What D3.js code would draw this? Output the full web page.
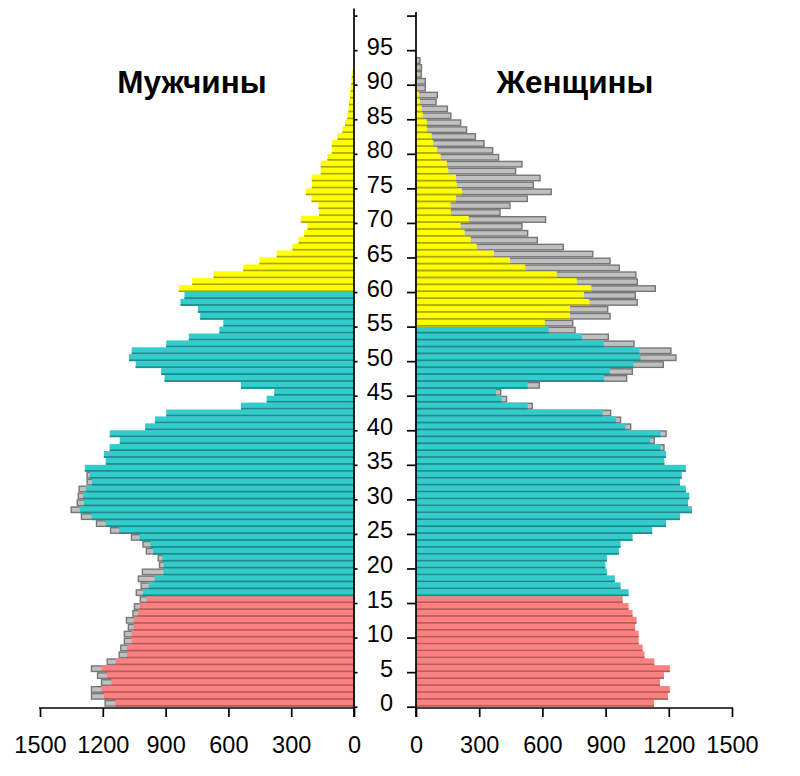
<!DOCTYPE html>
<html>
<head>
<meta charset="utf-8">
<script src="https://cdn.jsdelivr.net/npm/d3@7/dist/d3.min.js"></script>
<style>
  html, body { margin: 0; padding: 0; background: #fff; }
  svg { display: block; }
  text { font-family: "Liberation Sans", Arial, sans-serif; fill: #000; }
</style>
</head>
<body>
<svg id="chart" width="800" height="776"></svg>
<script>
// ---------- DATA ----------
const sexLabels = ["Мужчины", "Женщины"];
const ageTicks = [0, 5, 10, 15, 20, 25, 30, 35, 40, 45, 50, 55, 60, 65, 70, 75, 80, 85, 90, 95];
const valueTicks = [0, 300, 600, 900, 1200, 1500];

// men, coloured bars, index = age 0..91
const men = [1140, 1195, 1206, 1159, 1179, 1206, 1140, 1084, 1084, 1063,
  1063, 1052, 1052, 1032, 1024, 992, 1008, 981, 952, 910,
  910, 916, 960, 973, 1024, 1122, 1186, 1254, 1310, 1290,
  1294, 1281, 1252, 1262, 1286, 1186, 1195, 1167, 1119, 1167,
  998, 951, 897, 540, 417, 381, 540, 905, 921, 1043,
  1075, 1062, 897, 789, 643, 624, 735, 746, 829, 810,
  837, 773, 671, 529, 452, 370, 294, 265, 238, 222,
  254, 167, 170, 203, 230, 202, 202, 159, 159, 127,
  106, 106, 79, 56, 43, 32, 27, 24, 19, 16,
  13, 11];

// men, grey bars (other series), index = age
const menGrey = [1189, 1254, 1254, 1206, 1225, 1254, 1179, 1122, 1114, 1097,
  1097, 1078, 1087, 1056, 1049, 1021, 1040, 1017, 1030, 1011,
  929, 935, 992, 1008, 1063, 1163, 1230, 1302, 1351, 1322,
  1317, 1313, 1275, 1275];

// women, coloured bars, index = age 0..93
const women = [1130, 1196, 1205, 1158, 1177, 1205, 1131, 1085, 1076, 1057,
  1057, 1040, 1047, 1028, 1009, 981, 1009, 971, 944, 906,
  899, 906, 963, 971, 1028, 1121, 1187, 1253, 1310, 1291,
  1297, 1281, 1253, 1262, 1281, 1179, 1187, 1161, 1113, 1161,
  994, 950, 886, 530, 407, 380, 530, 894, 921, 1032,
  1066, 1060, 892, 788, 630, 611, 731, 731, 823, 797,
  832, 763, 668, 519, 446, 370, 288, 260, 231, 212,
  250, 165, 165, 190, 218, 193, 190, 153, 146, 117,
  101, 82, 74, 51, 51, 32, 27, 19, 14, 4,
  3, 2, 2, 1];

// women, grey bars, index = age; null = hidden
const womenGrey = [null, null, null, null, null, null, null, null, null, null,
  null, null, null, null, null, null, null, null, null, null,
  null, null, null, null, null, null, null, null, null, null,
  null, null, null, null, null, null, null, 1177, 1131, 1187,
  1019, 971, 924, 552, 430, 402, 585, 1000, 1027, 1174,
  1234, 1210, 1035, 913, 755, 744, 921, 910, 1050, 1041,
  1136, 1050, 1044, 965, 921, 839, 699, 576, 530, 503,
  615, 399, 446, 528, 642, 557, 589, 473, 503, 392,
  364, 323, 282, 240, 212, 165, 149, 95, 101, 44,
  44, 25, 26, 19];

// ---------- LAYOUT ----------
const svg = d3.select("#chart");
const axisY0 = 708;
const leftZero = 354, rightZero = 416;

const yAge = d3.scaleLinear().domain([0, 100]).range([706.7, 15.6]);
const xL = d3.scaleLinear().domain([0, 1500]).range([leftZero, 40]);
const xR = d3.scaleLinear().domain([0, 1500]).range([rightZero, 732]);

const palette = {
  child:   { fill: "#ff8080", dark: "#b85c5c" },
  work:    { fill: "#33cccc", dark: "#1e8a8a" },
  retired: { fill: "#ffff00", dark: "#a8a800" }
};
function group(age, retireAge) {
  if (age < 16) return palette.child;
  if (age < retireAge) return palette.work;
  return palette.retired;
}

const barH = yAge(0) - yAge(1);

function drawSide(vals, greyVals, side, retireAge) {
  const x = side === "L" ? xL : xR;
  const g = svg.append("g");
  const greyData = greyVals.map((v, a) => ({ a, v })).filter(d => d.v != null);
  g.selectAll("rect.grey").data(greyData).join("rect")
    .attr("class", "grey")
    .attr("x", d => side === "L" ? x(d.v) : rightZero)
    .attr("y", d => yAge(d.a + 1) + 0.7)
    .attr("width", d => Math.abs(x(d.v) - x(0)))
    .attr("height", barH - 1.4)
    .attr("fill", "#c0c0c0")
    .attr("stroke", "#767676")
    .attr("stroke-width", 1.4);

  const data = vals.map((v, a) => ({ a, v, c: group(a, retireAge) }));
  g.selectAll("rect.bar").data(data).join("rect")
    .attr("class", "bar")
    .attr("x", d => side === "L" ? x(d.v) : rightZero)
    .attr("y", d => yAge(d.a + 1))
    .attr("width", d => Math.abs(x(d.v) - x(0)))
    .attr("height", barH)
    .attr("fill", d => d.c.fill);
  g.selectAll("rect.shade").data(data).join("rect")
    .attr("class", "shade")
    .attr("x", d => side === "L" ? x(d.v) : rightZero)
    .attr("y", d => yAge(d.a) - 1.7)
    .attr("width", d => Math.abs(x(d.v) - x(0)))
    .attr("height", 1.7)
    .attr("fill", d => d.c.dark);
}

drawSide(men, menGrey, "L", 60);
drawSide(women, womenGrey, "R", 55);

// ---------- AXES ----------
const fontSize = 23.5;
const fmt = d => String(d);
const axL = svg.append("g").attr("transform", `translate(0,${axisY0})`)
  .call(d3.axisBottom(xL).tickValues(valueTicks).tickFormat(fmt).tickSize(9).tickSizeOuter(0).tickPadding(19.5));
const axR = svg.append("g").attr("transform", `translate(0,${axisY0})`)
  .call(d3.axisBottom(xR).tickValues(valueTicks).tickFormat(fmt).tickSize(9).tickSizeOuter(0).tickPadding(19.5));
[axL, axR].forEach(ax => {
  ax.select(".domain").remove();
  ax.selectAll(".tick line").attr("stroke", "#000").attr("stroke-width", 1.7);
  ax.selectAll(".tick text").style("font-size", fontSize + "px").attr("fill", "#000");
});
svg.append("line").attr("x1", 39).attr("x2", leftZero + 0.8).attr("y1", axisY0).attr("y2", axisY0)
  .attr("stroke", "#000").attr("stroke-width", 1.7);
svg.append("line").attr("x1", rightZero - 0.8).attr("x2", 733).attr("y1", axisY0).attr("y2", axisY0)
  .attr("stroke", "#000").attr("stroke-width", 1.7);

// central age axes
const ageAxisR = svg.append("g").attr("transform", `translate(${rightZero},0)`)
  .call(d3.axisLeft(yAge).tickValues(d3.range(0, 101, 5)).tickSize(9).tickSizeOuter(0).tickPadding(14)
    .tickFormat(d => ageTicks.includes(d) ? String(d) : ""));
ageAxisR.select(".domain").remove();
ageAxisR.selectAll(".tick line").attr("stroke", "#000").attr("stroke-width", 1.7);
ageAxisR.selectAll(".tick text").style("font-size", fontSize + "px").attr("y", -3.5).attr("fill", "#000");

const ageAxisL = svg.append("g").attr("transform", `translate(${leftZero},0)`)
  .call(d3.axisRight(yAge).tickValues(d3.range(0, 101, 5)).tickSize(3.5).tickSizeOuter(0).tickFormat(""));
ageAxisL.select(".domain").remove();
ageAxisL.selectAll(".tick line").attr("stroke", "#000").attr("stroke-width", 1.7);

svg.append("line").attr("x1", leftZero).attr("x2", leftZero).attr("y1", 8.5).attr("y2", axisY0 + 9)
  .attr("stroke", "#000").attr("stroke-width", 1.7);
svg.append("line").attr("x1", rightZero).attr("x2", rightZero).attr("y1", 12).attr("y2", axisY0 + 9)
  .attr("stroke", "#000").attr("stroke-width", 1.7);

// ---------- TITLES ----------
const titles = [{ t: sexLabels[0], x: 192 }, { t: sexLabels[1], x: 575 }];
svg.selectAll("text.title").data(titles).join("text")
  .attr("class", "title")
  .attr("x", d => d.x).attr("y", 93)
  .attr("text-anchor", "middle")
  .style("font-size", "31.5px").style("font-weight", "bold")
  .text(d => d.t);
</script>
</body>
</html>
